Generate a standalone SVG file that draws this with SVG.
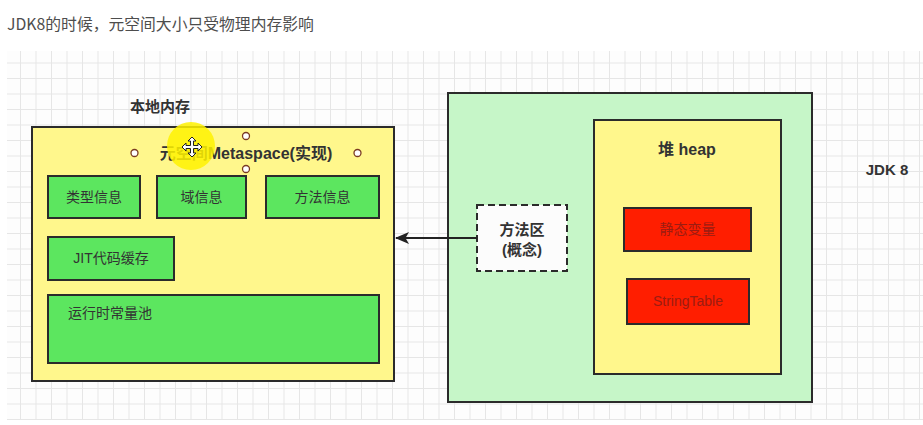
<svg xmlns="http://www.w3.org/2000/svg" width="923" height="425" viewBox="0 0 923 425">
<defs>
<pattern id="grid" x="4.5" y="47" width="15.5" height="15.5" patternUnits="userSpaceOnUse">
<path d="M0.5 0V15.5M0 0.5H15.5" fill="none" stroke="#e6e6e6" stroke-width="1"/>
</pattern>
<marker id="arrow" markerWidth="14" markerHeight="12" refX="13" refY="6" orient="auto" markerUnits="userSpaceOnUse">
<path d="M0 0L14 6L0 12L3.5 6Z" fill="#222"/>
</marker>
<style>
.box{stroke:#2b2b2b;stroke-width:2}
.yellow{fill:#fff78c}
.green{fill:#5ce65f}
.lgreen{fill:#c6f6c8}
.red{fill:#ff1e00}
.t{font-family:"Liberation Sans","Noto Sans CJK SC",sans-serif;fill:#333}
.b{font-weight:bold;font-size:16px}
.n{font-size:14px}
.rt{font-size:14px;fill:#9b1c12}
.handle{fill:#fff;stroke:#7a3b22;stroke-width:1.3}
</style>
</defs>
<rect x="0" y="0" width="923" height="425" fill="#fff"/>
<text x="7" y="30" font-family="'Noto Sans CJK SC','Liberation Sans',sans-serif" font-size="15.8" fill="#4d4d4d">JDK8的时候，元空间大小只受物理内存影响</text>
<rect x="7" y="51" width="916" height="369" fill="#fdfdfd"/>
<rect x="7" y="51" width="916" height="369" fill="url(#grid)"/>

<g id="local-memory">
<rect class="box yellow" x="32" y="127" width="362" height="254"/>
<text class="t" x="160" y="112" font-size="15" font-weight="bold" text-anchor="middle">本地内存</text>
</g>
<g id="metaspace-title">
<text class="t b" x="246" y="159" text-anchor="middle">元空间Metaspace(实现)</text>
</g>
<g id="type-info">
<rect class="box green" x="48" y="176" width="92" height="42"/>
<text class="t n" x="94" y="202" text-anchor="middle">类型信息</text>
</g>
<g id="field-info">
<rect class="box green" x="157" y="176" width="89" height="42"/>
<text class="t n" x="201.5" y="202" text-anchor="middle">域信息</text>
</g>
<g id="method-info">
<rect class="box green" x="266" y="176" width="113" height="42"/>
<text class="t n" x="322.5" y="202" text-anchor="middle">方法信息</text>
</g>
<g id="jit-cache">
<rect class="box green" x="48" y="237" width="126" height="43"/>
<text class="t n" x="111" y="263" text-anchor="middle">JIT代码缓存</text>
</g>
<g id="runtime-constant-pool">
<rect class="box green" x="48" y="295" width="331" height="68"/>
<text class="t n" x="68" y="318">运行时常量池</text>
</g>

<g id="jdk8">
<rect class="box lgreen" x="448" y="93" width="364" height="309"/>
<text class="t" x="887" y="175" font-size="15" font-weight="bold" text-anchor="middle">JDK 8</text>
</g>
<g id="heap">
<rect class="box yellow" x="594" y="120" width="187" height="254"/>
<text class="t b" x="687" y="155" text-anchor="middle">堆 heap</text>
</g>
<g id="static-vars">
<rect class="box red" x="624" y="208" width="127" height="43"/>
<text class="t rt" x="687.5" y="234" text-anchor="middle">静态变量</text>
</g>
<g id="string-table">
<rect class="box red" x="627" y="279" width="122" height="45"/>
<text class="t rt" x="688" y="306" text-anchor="middle">StringTable</text>
</g>
<g id="method-area">
<rect x="477" y="205" width="90" height="66" fill="#fcfcfc" stroke="#2b2b2b" stroke-width="2" stroke-dasharray="7 4"/>
<text class="t" x="522" y="235" font-size="15" font-weight="bold" text-anchor="middle">方法区</text>
<text class="t" x="522" y="255" font-size="15" font-weight="bold" text-anchor="middle">(概念)</text>
</g>

<g id="connectors">
<line x1="477" y1="238" x2="396" y2="238" stroke="#222" stroke-width="2" marker-end="url(#arrow)"/>
</g>

<g id="selection-overlay">
<circle cx="191" cy="146" r="24" fill="#fff200" opacity="0.85"/>
<circle class="handle" cx="134.5" cy="153" r="3.5"/>
<circle class="handle" cx="246" cy="136" r="3.5"/>
<circle class="handle" cx="357.5" cy="153" r="3.5"/>
<circle class="handle" cx="246" cy="169" r="3.5"/>
<path d="M192 137l4 4h-2.5v4.5h4.5v-2.5l4 4-4 4v-2.5h-4.5v4.5h2.5l-4 4-4-4h2.5v-4.5h-4.5v2.5l-4-4 4-4v2.5h4.5v-4.5h-2.5z" fill="#fff" stroke="#222" stroke-width="1"/>
</g>
</svg>
